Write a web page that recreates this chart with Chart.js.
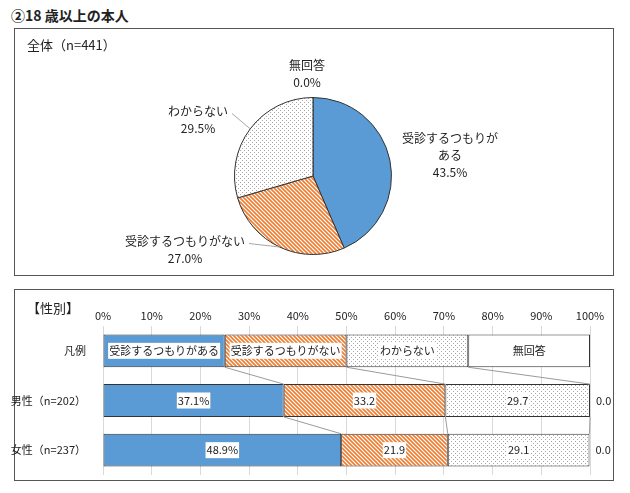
<!DOCTYPE html>
<html>
<head>
<meta charset="utf-8">
<script src="https://cdn.jsdelivr.net/npm/chart.js@4.4.0/dist/chart.umd.min.js"></script>
<style>
  body { margin: 0; background: #fff; font-family: "Noto Sans CJK JP", sans-serif; color: #222; }
  #title { position: absolute; left: 11px; top: 5px; font-size: 14px; font-weight: bold; }
  .box { position: absolute; left: 14px; width: 598px; border: 1px solid #555; }
  #box1 { top: 28px; height: 246px; }
  #box2 { top: 289px; height: 190px; }
  .cap { position: absolute; font-size: 13px; }
  .wrap { position: absolute; left: 0; top: 0; width: 598px; }
</style>
</head>
<body>
<div id="title">②18 歳以上の本人</div>
<div class="box" id="box1">
  <div class="wrap" style="height:246px"><canvas id="pieChart"></canvas></div>
  <div class="cap" style="left:12px;top:6px">全体（n=441）</div>
</div>
<div class="box" id="box2">
  <div class="wrap" style="left:-15px;width:613px;height:190px"><canvas id="barChart"></canvas></div>
  <div class="cap" style="left:12px;top:8px">【性別】</div>
</div>
<script>
// data
const seriesNames = ['受診するつもりがある', '受診するつもりがない', 'わからない', '無回答'];
const pieValues = [43.5, 27.0, 29.5, 0.0];
const rowLabels = ['凡例', '男性（n=202）', '女性（n=237）'];
const legendRow = [25, 25, 25, 25];
const maleValues = [37.1, 33.2, 29.7, 0.0];
const femaleValues = [48.9, 21.9, 29.1, 0.0];

const FONT = '"Noto Sans CJK JP", sans-serif';

// fill patterns
function stripes() {
  const c = document.createElement('canvas');
  c.width = 4; c.height = 4;
  const g = c.getContext('2d');
  g.fillStyle = '#fff';
  g.fillRect(0, 0, 4, 4);
  g.strokeStyle = '#ed7d31';
  g.lineWidth = 1.6;
  g.beginPath();
  g.moveTo(-1, -1); g.lineTo(5, 5);
  g.moveTo(3, -1); g.lineTo(5, 1);
  g.moveTo(-1, 3); g.lineTo(1, 5);
  g.stroke();
  return g.createPattern(c, 'repeat');
}
function dots() {
  const c = document.createElement('canvas');
  c.width = 4; c.height = 4;
  const g = c.getContext('2d');
  g.fillStyle = '#fff';
  g.fillRect(0, 0, 4, 4);
  g.fillStyle = '#a8a8a8';
  g.fillRect(1, 1, 1, 1);
  g.fillRect(3, 3, 1, 1);
  return g.createPattern(c, 'repeat');
}
const fills = ['#5b9bd5', stripes(), dots(), '#ffffff'];

// pie labels: offset of the label block from the pie centre, in px
const pieLabelOffset = [[137, -21], [-128, 74], [-115, -56], [-6, -102]];
const pieLabelBreak = [8, 0, 0, 0];
const pieLeader = [false, true, true, false];

const pieLabels = {
  id: 'pieLabels',
  afterDatasetsDraw(chart) {
    const ctx = chart.ctx;
    const meta = chart.getDatasetMeta(0);
    ctx.save();
    ctx.font = '12px ' + FONT;
    ctx.fillStyle = '#222';
    ctx.textAlign = 'center';
    ctx.textBaseline = 'middle';
    meta.data.forEach((arc, i) => {
      const name = seriesNames[i];
      const b = pieLabelBreak[i];
      const lines = b ? [name.slice(0, b), name.slice(b)] : [name];
      lines.push(pieValues[i].toFixed(1) + '%');
      const cx = arc.x + pieLabelOffset[i][0];
      const cy = arc.y + pieLabelOffset[i][1];
      const lh = 17;
      const y0 = cy - (lines.length - 1) * lh / 2;
      lines.forEach((t, k) => ctx.fillText(t, cx, y0 + k * lh));
      if (pieLeader[i]) {
        const mid = (arc.startAngle + arc.endAngle) / 2;
        const ex = arc.x + arc.outerRadius * Math.cos(mid);
        const ey = arc.y + arc.outerRadius * Math.sin(mid);
        const w = ctx.measureText(lines[0]).width;
        ctx.strokeStyle = '#a6a6a6';
        ctx.lineWidth = 1;
        ctx.beginPath();
        ctx.moveTo(cx + w / 2 + 4, y0 + 2);
        ctx.lineTo(ex, ey);
        ctx.stroke();
      }
    });
    ctx.restore();
  }
};

new Chart(document.getElementById('pieChart'), {
  type: 'pie',
  data: {
    labels: seriesNames,
    datasets: [{
      data: pieValues,
      backgroundColor: fills,
      borderColor: '#333',
      borderWidth: 1
    }]
  },
  options: {
    responsive: true,
    maintainAspectRatio: false,
    animation: false,
    layout: { padding: { left: 219, right: 221, top: 68, bottom: 20 } },
    plugins: { legend: { display: false }, tooltip: { enabled: false } }
  },
  plugins: [pieLabels]
});

// connecting lines + labels on the bars
const barExtras = {
  id: 'barExtras',
  afterDatasetsDraw(chart) {
    const ctx = chart.ctx;
    ctx.save();
    ctx.strokeStyle = '#9a9a9a';
    ctx.lineWidth = 1;
    for (let di = 0; di < 3; di++) {
      const bars = chart.getDatasetMeta(di).data;
      for (let ri = 0; ri < bars.length - 1; ri++) {
        const a = bars[ri], b = bars[ri + 1];
        ctx.beginPath();
        ctx.moveTo(a.x, a.y + a.height / 2);
        ctx.lineTo(b.x, b.y - b.height / 2);
        ctx.stroke();
      }
    }
    ctx.font = '11px ' + FONT;
    ctx.textBaseline = 'middle';
    chart.data.datasets.forEach((ds, di) => {
      chart.getDatasetMeta(di).data.forEach((bar, ri) => {
        const v = ds.data[ri];
        let txt;
        if (ri === 0) txt = seriesNames[di];
        else txt = v.toFixed(1) + (di === 0 ? '%' : '');
        const w = ctx.measureText(txt).width;
        if (ri > 0 && v === 0) {
          ctx.textAlign = 'left';
          ctx.fillStyle = '#222';
          ctx.fillText(txt, bar.x + 6, bar.y);
          return;
        }
        const cx = (bar.x + bar.base) / 2;
        ctx.fillStyle = '#fff';
        ctx.fillRect(cx - w / 2 - 1, bar.y - 8, w + 2, 16);
        ctx.textAlign = 'center';
        ctx.fillStyle = '#222';
        ctx.fillText(txt, cx, bar.y);
      });
    });
    ctx.restore();
  }
};

new Chart(document.getElementById('barChart'), {
  type: 'bar',
  data: {
    labels: rowLabels,
    datasets: seriesNames.map((n, i) => ({
      label: n,
      data: [legendRow[i], maleValues[i], femaleValues[i]],
      backgroundColor: fills[i],
      borderColor: '#333',
      borderWidth: 1,
      borderSkipped: false,
      categoryPercentage: 1,
      barPercentage: 0.66
    }))
  },
  options: {
    indexAxis: 'y',
    responsive: true,
    maintainAspectRatio: false,
    animation: false,
    layout: { padding: { left: 0, right: 23, top: 0, bottom: 5 } },
    plugins: { legend: { display: false }, tooltip: { enabled: false } },
    scales: {
      x: {
        position: 'top',
        stacked: true,
        min: 0,
        max: 100,
        afterFit(s) { s.height = 36; s.paddingLeft = 0; s.paddingRight = 0; },
        grid: { color: '#d9d9d9', drawTicks: false },
        border: { display: false },
        ticks: {
          stepSize: 10,
          padding: 4,
          color: '#222',
          font: { family: FONT, size: 11 },
          callback: v => v + '%'
        }
      },
      y: {
        stacked: true,
        afterFit(s) { s.width = 103; s.paddingTop = 0; s.paddingBottom = 0; },
        grid: { display: false },
        border: { display: false },
        ticks: { padding: 9, color: '#222', font: { family: FONT, size: 11 } }
      }
    }
  },
  plugins: [barExtras]
});
</script>
</body>
</html>
